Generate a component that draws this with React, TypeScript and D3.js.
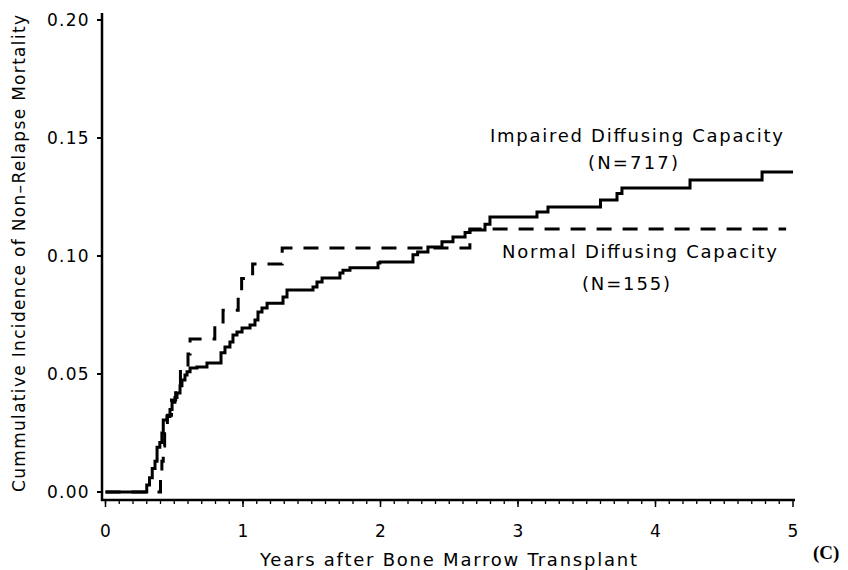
import React from "react";
import * as d3 from "d3";

// Impaired Diffusing Capacity (N=717): [years, cumulative incidence]
const impairedSteps: [number, number][] = [
  [0, 0], [0.30, 0.003], [0.32, 0.006], [0.34, 0.010], [0.36, 0.013], [0.375, 0.019],
  [0.395, 0.021], [0.41, 0.025], [0.42, 0.0305], [0.447, 0.032], [0.469, 0.035],
  [0.484, 0.038], [0.505, 0.040], [0.52, 0.042], [0.542, 0.045], [0.556, 0.0475],
  [0.578, 0.0496], [0.593, 0.051], [0.615, 0.0525], [0.665, 0.053], [0.738, 0.0547],
  [0.84, 0.059], [0.869, 0.0614], [0.905, 0.0636], [0.927, 0.0665], [0.956, 0.0678],
  [0.993, 0.0695], [1.051, 0.0708], [1.087, 0.0729], [1.109, 0.0763], [1.138, 0.078],
  [1.175, 0.080], [1.291, 0.0826], [1.32, 0.0856], [1.509, 0.0869], [1.538, 0.089],
  [1.575, 0.0907], [1.705, 0.0928], [1.727, 0.094], [1.778, 0.095], [1.982, 0.097],
  [1.996, 0.0975], [2.236, 0.1005], [2.27, 0.1017], [2.345, 0.1038], [2.447, 0.106],
  [2.527, 0.108], [2.615, 0.110], [2.651, 0.111], [2.76, 0.1135], [2.796, 0.1165],
  [3.138, 0.1186], [3.218, 0.1208], [3.6, 0.1237], [3.72, 0.1265], [3.756, 0.1288],
  [4.251, 0.1322], [4.775, 0.1356], [5.0, 0.1356],
];

// Normal Diffusing Capacity (N=155)
const normalSteps: [number, number][] = [
  [0, 0], [0.40, 0.0065], [0.41, 0.013], [0.42, 0.0195], [0.43, 0.026], [0.45, 0.0325],
  [0.48, 0.039], [0.51, 0.0455], [0.545, 0.052], [0.60, 0.0585], [0.615, 0.0648],
  [0.795, 0.0708], [0.855, 0.077], [0.965, 0.0835], [0.99, 0.0905], [1.07, 0.0966],
  [1.285, 0.1034], [2.65, 0.1114], [4.95, 0.1114],
];

const xTicks = [0, 1, 2, 3, 4, 5];
const xMinorTicks = d3.range(0, 50).map((i) => i / 10);
const yTicks = [0, 0.05, 0.1, 0.15, 0.2];
const yTickLabels = ["0.00", "0.05", "0.10", "0.15", "0.20"];

const FONT = "DejaVu Sans, sans-serif";

export default function App() {
  const x = d3.scaleLinear().domain([0, 5]).range([105.5, 793]);
  const y = d3.scaleLinear().domain([0, 0.2]).range([492, 20]);
  const line = d3
    .line<[number, number]>()
    .x((d) => x(d[0]))
    .y((d) => y(d[1]))
    .curve(d3.curveStepAfter);

  const axisY = 500;
  const axisX = 102;

  return (
    <svg
      width={848}
      height={570}
      style={{ position: "absolute", left: 0, top: 0, background: "#fff" }}
    >
      <rect x={0} y={0} width={848} height={570} fill="#fff" />
      {/* y axis */}
      <line x1={axisX} x2={axisX} y1={13} y2={501} stroke="#000" strokeWidth={2.5} />
      {yTicks.map((t, i) => (
        <g key={"y" + i}>
          <line x1={axisX - 5} x2={axisX} y1={y(t)} y2={y(t)} stroke="#000" strokeWidth={2} />
          <text
            x={90}
            y={y(t) + 6}
            textAnchor="end"
            fontFamily={FONT}
            fontSize={17}
            letterSpacing={1.3}
            fill="#000"
          >
            {yTickLabels[i]}
          </text>
        </g>
      ))}
      {/* x axis */}
      <line x1={axisX - 1} x2={795} y1={axisY} y2={axisY} stroke="#000" strokeWidth={2.5} />
      {xMinorTicks.map((t, i) => (
        <line key={"m" + i} x1={x(t)} x2={x(t)} y1={axisY} y2={axisY + 4} stroke="#000" strokeWidth={1.3} />
      ))}
      {xTicks.map((t) => (
        <g key={"x" + t}>
          <line x1={x(t)} x2={x(t)} y1={axisY} y2={axisY + 7} stroke="#000" strokeWidth={1.5} />
          <text x={x(t)} y={537} textAnchor="middle" fontFamily={FONT} fontSize={17} fill="#000">
            {t}
          </text>
        </g>
      ))}
      {/* curves */}
      <path d={line(normalSteps) || ""} fill="none" stroke="#000" strokeWidth={3} strokeDasharray="15,11" />
      <path d={line(impairedSteps) || ""} fill="none" stroke="#000" strokeWidth={3} />
      {/* annotations */}
      <text x={490} y={142} fontFamily={FONT} fontSize={18} textLength={293} lengthAdjust="spacing" fill="#000">
        Impaired Diffusing Capacity
      </text>
      <text x={588} y={169} fontFamily={FONT} fontSize={18} textLength={90} lengthAdjust="spacing" fill="#000">
        (N=717)
      </text>
      <text x={502} y={258} fontFamily={FONT} fontSize={18} textLength={275} lengthAdjust="spacing" fill="#000">
        Normal Diffusing Capacity
      </text>
      <text x={582} y={290} fontFamily={FONT} fontSize={18} textLength={88} lengthAdjust="spacing" fill="#000">
        (N=155)
      </text>
      {/* axis titles */}
      <text x={260} y={566} fontFamily={FONT} fontSize={18} textLength={377} lengthAdjust="spacing" fill="#000">
        Years after Bone Marrow Transplant
      </text>
      <text
        transform="translate(25,492) rotate(-90)"
        x={0}
        y={0}
        fontFamily={FONT}
        fontSize={17}
        textLength={477}
        lengthAdjust="spacing"
        fill="#000"
      >
        Cummulative Incidence of Non–Relapse Mortality
      </text>
      <text x={813} y={559} fontFamily="Liberation Serif, serif" fontWeight="bold" fontSize={19} fill="#000">
        (C)
      </text>
    </svg>
  );
}
